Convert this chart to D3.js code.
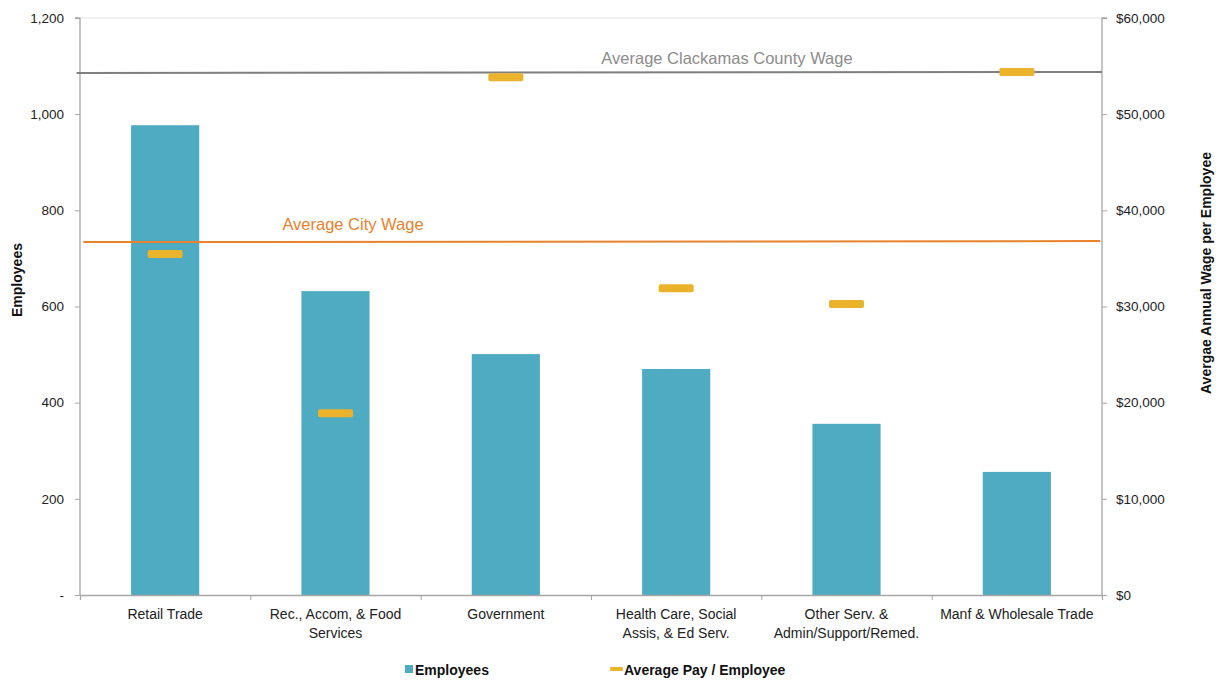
<!DOCTYPE html>
<html><head><meta charset="utf-8">
<script src="https://cdn.jsdelivr.net/npm/d3@7"></script>
<style>
body{margin:0;background:#fff;}
text{font-family:"Liberation Sans",Arial,sans-serif;}
</style></head>
<body><svg id="c" width="1221" height="682"></svg>
<script>
const categories = [["Retail Trade"],["Rec., Accom, & Food","Services"],["Government"],["Health Care, Social","Assis, & Ed Serv."],["Other Serv. &","Admin/Support/Remed."],["Manf & Wholesale Trade"]];
const employees = [977, 632, 501, 470, 356, 256];
const avgPay = [35450, 18900, 53850, 31900, 30250, 54380];
const countyWage = [54280, 54390];
const cityWage = [36700, 36800];
const countySpan = [-0.52, 5.5];
const citySpan = [-0.48, 5.49];
const leftTicks = [0,200,400,600,800,1000,1200];
const rightTicks = [0,10000,20000,30000,40000,50000,60000];

const svg = d3.select("#c");
const L=80, R=1102, T=18, B=595;
const x = d3.scaleBand().domain(d3.range(categories.length)).range([L,R]).paddingInner(0).paddingOuter(0);
const xi = d3.scaleLinear().domain([-0.5, categories.length-0.5]).range([L,R]);
const yL = d3.scaleLinear().domain([0,1200]).range([B,T]);
const yR = d3.scaleLinear().domain([0,60000]).range([B,T]);

// top border
svg.append("line").attr("x1",L).attr("x2",R).attr("y1",T).attr("y2",T).attr("stroke","#e3e3e3").attr("stroke-width",1);

// bars
const bw = x.bandwidth()*0.4;
svg.selectAll("rect.bar").data(employees).join("rect").attr("class","bar")
  .attr("x",(d,i)=>x(i)+x.bandwidth()/2-bw/2).attr("width",bw)
  .attr("y",d=>yL(d)).attr("height",d=>B-yL(d)).attr("fill","#4fabc1");

// axes
const axL = svg.append("g").attr("transform",`translate(${L},0)`)
  .call(d3.axisLeft(yL).tickValues(leftTicks).tickSize(5).tickPadding(11).tickFormat(d=>d===0?"-":d3.format(",")(d)));
const axR = svg.append("g").attr("transform",`translate(${R},0)`)
  .call(d3.axisRight(yR).tickValues(rightTicks).tickSize(5).tickPadding(9).tickFormat(d=>"$"+d3.format(",")(d)));
const axB = svg.append("g").attr("transform",`translate(0,${B})`)
  .call(d3.axisBottom(xi).tickValues(d3.range(-0.5,categories.length,1)).tickSize(5).tickFormat(""));
[axL,axR,axB].forEach(g=>{
  g.select(".domain").attr("stroke","#a6a6a6").attr("stroke-width",1.3);
  g.selectAll(".tick line").attr("stroke","#a6a6a6");
  g.selectAll(".tick text").attr("fill","#222").style("font-size","13.5px").style("font-family","'Liberation Sans',Arial,sans-serif");
});
axL.select(".domain").attr("d",`M-5,${T}H0V${B}`);
axR.select(".domain").attr("d",`M5,${T}H0V${B}`);

// category labels
const cl = svg.append("g");
categories.forEach((lines,i)=>{
  const t = cl.append("text").attr("x",x(i)+x.bandwidth()/2).attr("y",B+24).attr("text-anchor","middle")
    .style("font-size","14px").attr("fill","#222");
  lines.forEach((s,j)=>t.append("tspan").attr("x",x(i)+x.bandwidth()/2).attr("dy",j?19:0).text(s));
});

// reference lines
svg.append("line").attr("x1",xi(countySpan[0])).attr("x2",xi(countySpan[1]))
  .attr("y1",yR(countyWage[0])).attr("y2",yR(countyWage[1])).attr("stroke","#7f7f7f").attr("stroke-width",2);
svg.append("line").attr("x1",xi(citySpan[0])).attr("x2",xi(citySpan[1]))
  .attr("y1",yR(cityWage[0])).attr("y2",yR(cityWage[1])).attr("stroke","#e8822c").attr("stroke-width",2);
svg.append("text").attr("x",727).attr("y",yR(countyWage[0])-9).attr("text-anchor","middle")
  .style("font-size","16.5px").attr("fill","#8c8c8c").text("Average Clackamas County Wage");
svg.append("text").attr("x",353).attr("y",yR(cityWage[0])-12).attr("text-anchor","middle")
  .style("font-size","16.5px").attr("fill","#e8822c").text("Average City Wage");

// pay markers
const mw=35, mh=8;
svg.selectAll("rect.pay").data(avgPay).join("rect").attr("class","pay")
  .attr("x",(d,i)=>x(i)+x.bandwidth()/2-mw/2).attr("width",mw)
  .attr("y",d=>yR(d)-mh/2).attr("height",mh).attr("rx",2).attr("fill","#ebb22b");

// axis titles
svg.append("text").attr("transform","translate(22,280) rotate(-90)").attr("text-anchor","middle")
  .style("font-size","14px").style("font-weight","bold").attr("fill","#111").text("Employees");
svg.append("text").attr("transform","translate(1211,273) rotate(-90)").attr("text-anchor","middle")
  .style("font-size","14px").style("font-weight","bold").attr("fill","#111").text("Avergae Annual Wage per Employee");

// legend
const lg = svg.append("g");
lg.append("rect").attr("x",405).attr("y",665).attr("width",8).attr("height",8).attr("fill","#4fabc1");
lg.append("text").attr("x",415).attr("y",674.5).style("font-size","14px").style("font-weight","bold").attr("fill","#111").text("Employees");
lg.append("rect").attr("x",610).attr("y",667).attr("width",13).attr("height",4).attr("rx",1.5).attr("fill","#ebb22b");
lg.append("text").attr("x",624).attr("y",674.5).style("font-size","14px").style("font-weight","bold").attr("fill","#111").text("Average Pay / Employee");
</script></body></html>
